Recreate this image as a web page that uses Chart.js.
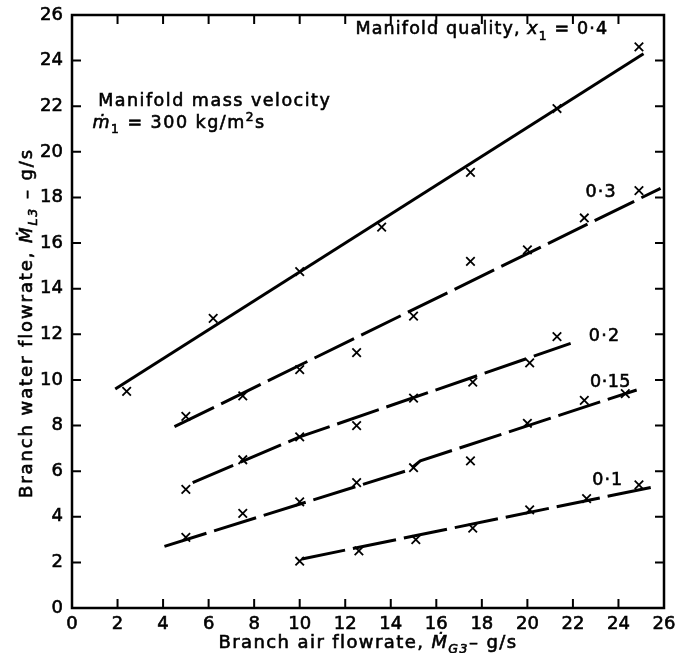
<!DOCTYPE html>
<html>
<head>
<meta charset="utf-8">
<script src="https://cdn.jsdelivr.net/npm/chart.js@4/dist/chart.umd.min.js"></script>
<style>
  html, body { margin: 0; padding: 0; background: #fff; }
  #wrap { width: 675px; height: 653px; position: relative; }
</style>
</head>
<body>
<div id="wrap"><canvas id="c" width="675" height="653"></canvas></div>
<script>
// Measured branch flows for each manifold quality x1
const xQ04 = [2.4, 6.2, 10.0, 13.6, 17.5, 21.3, 24.9];
const yQ04 = [9.5, 12.7, 14.75, 16.7, 19.1, 21.9, 24.6];

const xQ03 = [5.0, 7.5, 10.0, 12.5, 15.0, 17.5, 20.0, 22.5, 24.9];
const yQ03 = [8.4, 9.3, 10.45, 11.2, 12.8, 15.2, 15.7, 17.1, 18.3];

const xQ02 = [5.0, 7.5, 10.0, 12.5, 15.0, 17.6, 20.1, 21.3];
const yQ02 = [5.2, 6.5, 7.5, 8.0, 9.2, 9.9, 10.75, 11.9];

const xQ015 = [5.0, 7.5, 10.0, 12.5, 15.0, 17.5, 20.0, 22.5, 24.3];
const yQ015 = [3.1, 4.15, 4.65, 5.5, 6.15, 6.45, 8.1, 9.1, 9.4];

const xQ01 = [10.0, 12.6, 15.1, 17.6, 20.1, 22.6, 24.9];
const yQ01 = [2.05, 2.5, 3.0, 3.5, 4.3, 4.8, 5.4];

// Hand-drawn trend lines through each set
const fitX04 = [1.9, 25.1];
const fitY04 = [9.6, 24.3];
const fitX03 = [4.5, 25.85];
const fitY03 = [7.95, 18.4];
const fitX02 = [5.3, 10.0, 21.9];
const fitY02 = [5.5, 7.5, 11.6];
const fitX015 = [4.06, 14.8, 15.3, 24.8];
const fitY015 = [2.7, 6.05, 6.45, 9.56];
const fitX01 = [10.1, 25.5];
const fitY01 = [2.15, 5.3];

// Axis ticks
const xTicks = [0, 2, 4, 6, 8, 10, 12, 14, 16, 18, 20, 22, 24, 26];
const yTicks = [0, 2, 4, 6, 8, 10, 12, 14, 16, 18, 20, 22, 24, 26];

const pts = (xs, ys) => xs.map((x, i) => ({ x: x, y: ys[i] }));

const FONT = '"DejaVu Sans", sans-serif';

function markers(xs, ys) {
  return {
    data: pts(xs, ys),
    showLine: false,
    pointStyle: 'crossRot',
    pointRadius: 6,
    pointBorderWidth: 1.8,
    borderColor: '#000',
    backgroundColor: '#000'
  };
}
function trend(xs, ys, dashed) {
  return {
    data: pts(xs, ys),
    showLine: true,
    pointRadius: 0,
    borderWidth: 3,
    borderColor: '#000',
    borderDash: dashed ? [44, 8] : [],
    borderCapStyle: 'butt',
    tension: 0
  };
}

// Draw a run of text pieces; pieces may be subscript or superscript
function richText(ctx, pieces, x, y, size, align, spacing) {
  ctx.save();
  ctx.textBaseline = 'alphabetic';
  ctx.textAlign = 'left';
  ctx.letterSpacing = (spacing || 0) + 'px';
  ctx.lineWidth = 0.6;
  ctx.strokeStyle = '#000';
  ctx.fillStyle = '#000';
  const setFont = p => {
    const s = p.sub || p.sup ? size * 0.7 : size;
    ctx.font = (p.italic ? 'italic ' : '') + s + 'px ' + FONT;
  };
  let total = 0;
  pieces.forEach(p => { setFont(p); total += ctx.measureText(p.t).width; });
  let cx = align === 'center' ? x - total / 2 : x;
  pieces.forEach(p => {
    setFont(p);
    let dy = 0;
    if (p.sub) dy = size * 0.3;
    if (p.sup) dy = -size * 0.4;
    ctx.fillText(p.t, cx, y + dy);
    ctx.strokeText(p.t, cx, y + dy);
    cx += ctx.measureText(p.t).width;
  });
  ctx.restore();
}

const frameAndText = {
  id: 'frameAndText',
  afterDraw(chart) {
    const ctx = chart.ctx;
    const a = chart.chartArea;
    const xs = chart.scales.x, ys = chart.scales.y;

    // frame
    ctx.save();
    ctx.strokeStyle = '#000';
    ctx.lineWidth = 2.5;
    ctx.strokeRect(a.left, a.top, a.right - a.left, a.bottom - a.top);

    // inward tick marks on all four sides
    ctx.lineWidth = 2;
    const L = 9;
    xTicks.slice(1, -1).forEach(v => {
      const px = xs.getPixelForValue(v);
      ctx.beginPath();
      ctx.moveTo(px, a.bottom); ctx.lineTo(px, a.bottom - L);
      ctx.moveTo(px, a.top); ctx.lineTo(px, a.top + L);
      ctx.stroke();
    });
    yTicks.slice(1, -1).forEach(v => {
      const py = ys.getPixelForValue(v);
      ctx.beginPath();
      ctx.moveTo(a.left, py); ctx.lineTo(a.left + L, py);
      ctx.moveTo(a.right, py); ctx.lineTo(a.right - L, py);
      ctx.stroke();
    });
    ctx.restore();

    const X = v => xs.getPixelForValue(v);
    const Y = v => ys.getPixelForValue(v);

    // annotations
    richText(ctx, [{ t: 'Manifold quality, ' }, { t: 'x', italic: true }, { t: '1', sub: true }, { t: ' = 0·4' }],
      X(12.45), Y(25.15), 17.5, 'left', 1.15);
    richText(ctx, [{ t: 'Manifold mass velocity' }], X(1.15), Y(22.0), 17.5, 'left', 1.5);
    richText(ctx, [{ t: 'ṁ', italic: true }, { t: '1', sub: true }, { t: ' = 300 kg/m' }, { t: '2', sup: true }, { t: 's' }],
      X(0.9), Y(21.05), 17.5, 'left', 1.5);
    richText(ctx, [{ t: '0·3' }], X(22.55), Y(18.0), 17.5, 'left', 1.2);
    richText(ctx, [{ t: '0·2' }], X(22.7), Y(11.7), 17.5, 'left', 1.2);
    richText(ctx, [{ t: '0·15' }], X(22.75), Y(9.7), 17.5, 'left', 0.5);
    richText(ctx, [{ t: '0·1' }], X(22.85), Y(5.4), 17.5, 'left', 1.0);

    // x axis title
    const cx = (a.left + a.right) / 2;
    richText(ctx, [{ t: 'Branch air flowrate, ' }, { t: 'Ṁ', italic: true }, { t: 'G3', sub: true, italic: true }, { t: '– g/s' }],
      cx, 648, 18, 'center', 1.4);

    // y axis title, rotated
    ctx.save();
    ctx.translate(32, 323);
    ctx.rotate(-Math.PI / 2);
    richText(ctx, [{ t: 'Branch water flowrate, ' }, { t: 'Ṁ', italic: true }, { t: 'L3', sub: true, italic: true }, { t: ' – g/s' }],
      0, 0, 18, 'center', 1.9);
    ctx.restore();
  }
};

const tickFont = { family: FONT, size: 18 };

new Chart(document.getElementById('c'), {
  type: 'scatter',
  data: {
    datasets: [
      trend(fitX04, fitY04, false),
      trend(fitX03, fitY03, true),
      trend(fitX02, fitY02, true),
      trend(fitX015, fitY015, true),
      trend(fitX01, fitY01, true),
      markers(xQ04, yQ04),
      markers(xQ03, yQ03),
      markers(xQ02, yQ02),
      markers(xQ015, yQ015),
      markers(xQ01, yQ01)
    ]
  },
  options: {
    responsive: false,
    animation: false,
    layout: { padding: { left: 0, right: 11, top: 15, bottom: 0 } },
    plugins: { legend: { display: false }, tooltip: { enabled: false }, title: { display: false } },
    scales: {
      x: {
        type: 'linear', min: 0, max: 26,
        afterBuildTicks: s => { s.ticks = xTicks.map(v => ({ value: v })); },
        afterFit: s => { s.height = 45; s.paddingLeft = 0; s.paddingRight = 0; },
        grid: { display: false, drawTicks: false },
        border: { display: false },
        ticks: { color: '#000', font: tickFont, padding: 6, maxRotation: 0, autoSkip: false,
                 textStrokeColor: '#000', textStrokeWidth: 0.6 }
      },
      y: {
        type: 'linear', min: 0, max: 26,
        afterBuildTicks: s => { s.ticks = yTicks.map(v => ({ value: v })); },
        afterFit: s => { s.width = 72; s.paddingTop = 0; s.paddingBottom = 0; },
        grid: { display: false, drawTicks: false },
        border: { display: false },
        ticks: { color: '#000', font: tickFont, padding: 9, autoSkip: false,
                 textStrokeColor: '#000', textStrokeWidth: 0.6 }
      }
    }
  },
  plugins: [frameAndText]
});
</script>
</body>
</html>
